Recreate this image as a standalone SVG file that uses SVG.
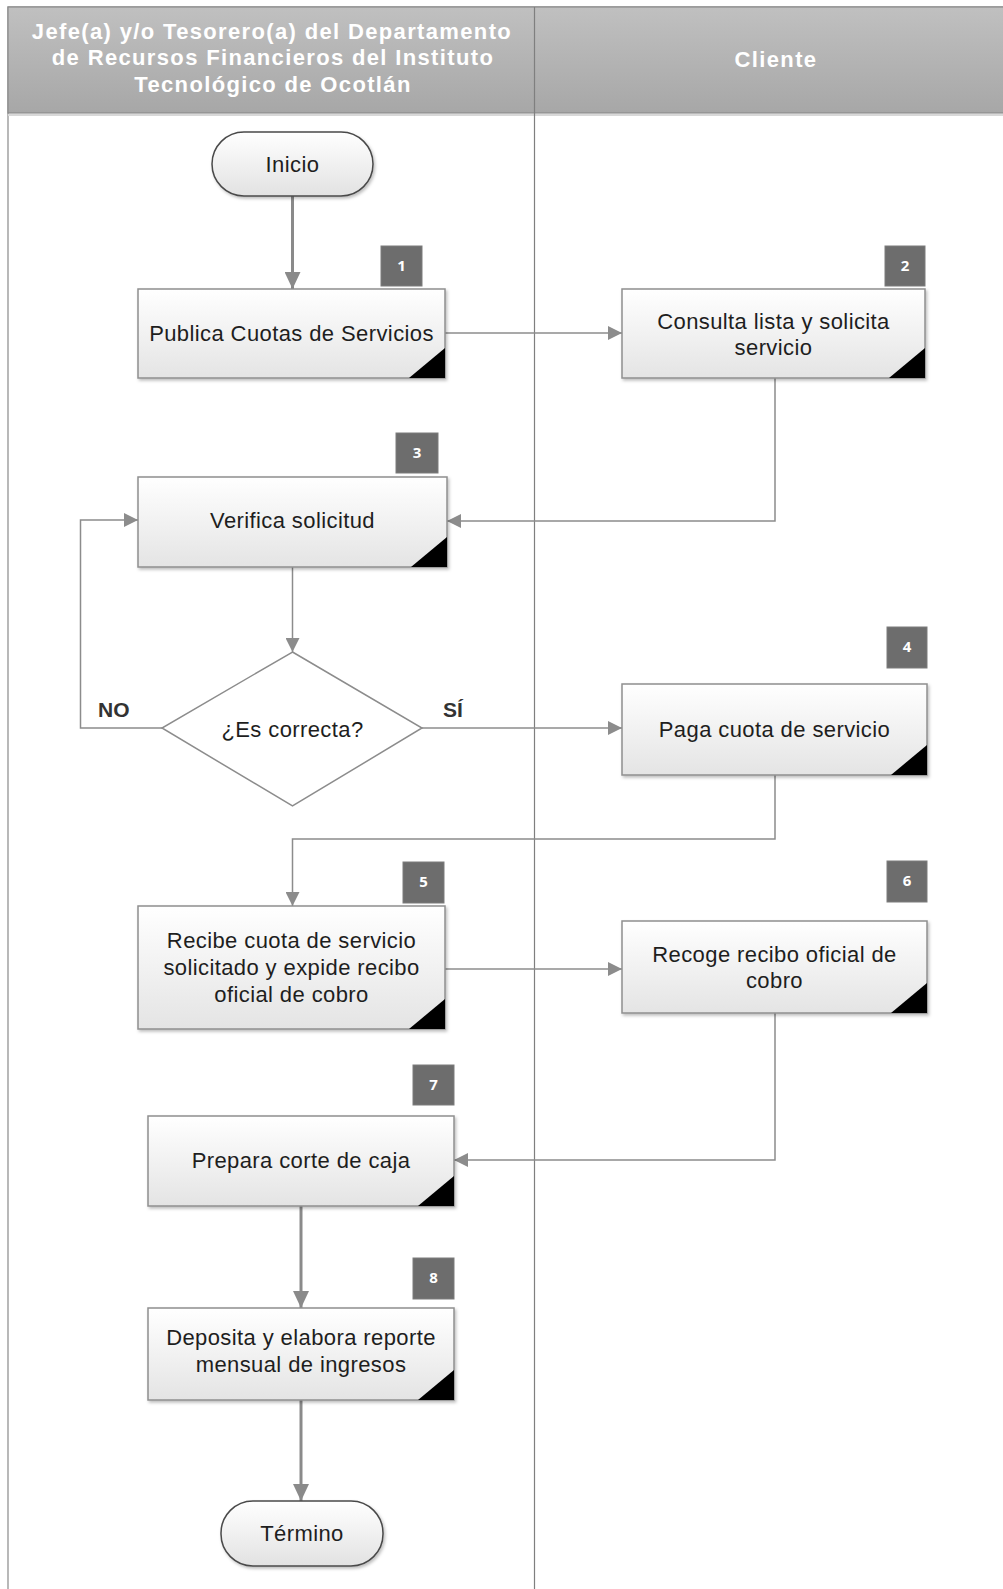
<svg xmlns="http://www.w3.org/2000/svg" width="1003" height="1589" viewBox="0 0 1003 1589">
<defs>
<linearGradient id="hdr" x1="0" y1="0" x2="0" y2="1"><stop offset="0" stop-color="#c0c0c0"/><stop offset="1" stop-color="#a7a7a7"/></linearGradient>
<linearGradient id="box" x1="0" y1="0" x2="0" y2="1"><stop offset="0" stop-color="#ffffff"/><stop offset="1" stop-color="#e4e4e4"/></linearGradient>
<linearGradient id="term" x1="0" y1="0" x2="0" y2="1"><stop offset="0" stop-color="#ffffff"/><stop offset="1" stop-color="#e2e2e2"/></linearGradient>
<filter id="sh" x="-10%" y="-10%" width="125%" height="130%"><feDropShadow dx="1.5" dy="2" stdDeviation="1.5" flood-color="#000" flood-opacity="0.25"/></filter>
<marker id="ah" markerUnits="userSpaceOnUse" markerWidth="15" markerHeight="14" refX="14" refY="7" orient="auto"><path d="M0,0 L14,7 L0,14 z" fill="#8c8c8c"/></marker>
<marker id="ahb" markerUnits="userSpaceOnUse" markerWidth="18" markerHeight="16" refX="17" refY="8" orient="auto"><path d="M0,0 L17,8 L0,16 z" fill="#8a8a8a"/></marker>
<style>
.hd{font-family:"Liberation Sans",Arial,sans-serif;font-weight:bold;font-size:22px;fill:#ffffff;letter-spacing:1.35px;text-anchor:middle}
.t{font-family:"Liberation Sans",Arial,sans-serif;font-size:22px;fill:#1e1e1e;letter-spacing:0.4px;text-anchor:middle}
.lbl{font-family:"Liberation Sans",Arial,sans-serif;font-weight:bold;font-size:21px;fill:#333333;text-anchor:start}
.bn{font-family:"Open Sans","Liberation Sans",Arial,sans-serif;font-weight:bold;font-size:15px;fill:#ffffff;text-anchor:middle}
.bx{fill:url(#box);stroke:#8f8f8f;stroke-width:1.5;filter:url(#sh)}
.tm{fill:url(#term);stroke:#4a4a4a;stroke-width:1.5;filter:url(#sh)}
.bd{fill:#6d6d6d;stroke:#7d7d7d;stroke-width:1}
.fold{fill:#000000}
.c{fill:none;stroke:#8c8c8c;stroke-width:1.5;marker-end:url(#ah)}
.cb{fill:none;stroke:#8a8a8a;stroke-width:3;marker-end:url(#ahb)}
</style>
</defs>
<rect x="0" y="0" width="1003" height="1589" fill="#ffffff"/>
<g id="lanes">
<rect x="8" y="7" width="1000" height="1590" fill="#ffffff" stroke="#8a8a8a" stroke-width="1.2"/>
<rect x="8" y="7" width="1000" height="106" fill="url(#hdr)" stroke="#8a8a8a" stroke-width="1.2"/>
<line x1="8" y1="115" x2="1003" y2="115" stroke="#d8d8d8" stroke-width="2"/>
<line x1="534.5" y1="7" x2="534.5" y2="1589" stroke="#7f7f7f" stroke-width="1.2"/>
<text class="hd" x="272" y="39">Jefe(a) y/o Tesorero(a) del Departamento</text>
<text class="hd" x="273" y="65">de Recursos Financieros del Instituto</text>
<text class="hd" x="273" y="92">Tecnológico de Ocotlán</text>
<text class="hd" x="776" y="67">Cliente</text>
</g>
<g id="connectors">
<line class="cb" x1="292.5" y1="196" x2="292.5" y2="289"/>
<line class="c" x1="445" y1="333" x2="622" y2="333"/>
<polyline class="c" points="775,378 775,521 447,521"/>
<line class="c" x1="292.5" y1="567" x2="292.5" y2="652"/>
<polyline class="c" points="162,728 80.5,728 80.5,520 138,520"/>
<line class="c" x1="422" y1="728" x2="622" y2="728"/>
<polyline class="c" points="775,775 775,839 292.5,839 292.5,906"/>
<line class="c" x1="445" y1="969" x2="622" y2="969"/>
<polyline class="c" points="775,1013 775,1160 454,1160"/>
<line class="cb" x1="301" y1="1206" x2="301" y2="1308"/>
<line class="cb" x1="301" y1="1400" x2="301" y2="1501"/>
<text class="lbl" x="98" y="717">NO</text>
<text class="lbl" x="443" y="717">SÍ</text>
</g>
<g id="inicio">
<rect class="tm" x="212" y="132" width="161" height="64" rx="32" ry="32"/>
<text class="t" x="292.5" y="172">Inicio</text>
</g>
<g id="n1">
<rect class="bx" x="138" y="289" width="307" height="89"/>
<polygon class="fold" points="409,378 445,348 445,378"/>
<rect class="bd" x="381" y="246" width="41" height="40"/>
<text class="bn" x="401.5" y="271">1</text>
<text class="t" x="291.5" y="341">Publica Cuotas de Servicios</text>
</g>
<g id="n2">
<rect class="bx" x="622" y="289" width="303" height="89"/>
<polygon class="fold" points="889,378 925,348 925,378"/>
<rect class="bd" x="885" y="246" width="40" height="40"/>
<text class="bn" x="905" y="271">2</text>
<text class="t" x="773.5" y="329">Consulta lista y solicita</text>
<text class="t" x="773.5" y="355">servicio</text>
</g>
<g id="n3">
<rect class="bx" x="138" y="477" width="309" height="90"/>
<polygon class="fold" points="411,567 447,537 447,567"/>
<rect class="bd" x="396" y="433" width="42" height="40"/>
<text class="bn" x="417" y="458">3</text>
<text class="t" x="292.5" y="528">Verifica solicitud</text>
</g>
<g id="decision">
<polygon points="292.5,652 422,728 292.5,806 162,728" fill="#ffffff" stroke="#8c8c8c" stroke-width="1.5"/>
<text class="t" x="292.5" y="737">¿Es correcta?</text>
</g>
<g id="n4">
<rect class="bx" x="622" y="684" width="305" height="91"/>
<polygon class="fold" points="891,775 927,745 927,775"/>
<rect class="bd" x="887" y="627" width="40" height="41"/>
<text class="bn" x="907" y="652">4</text>
<text class="t" x="774.5" y="737">Paga cuota de servicio</text>
</g>
<g id="n5">
<rect class="bx" x="138" y="906" width="307" height="123"/>
<polygon class="fold" points="409,1029 445,999 445,1029"/>
<rect class="bd" x="403" y="862" width="41" height="41"/>
<text class="bn" x="423.5" y="887">5</text>
<text class="t" x="291.5" y="948">Recibe cuota de servicio</text>
<text class="t" x="291.5" y="975">solicitado y expide recibo</text>
<text class="t" x="291.5" y="1002">oficial de cobro</text>
</g>
<g id="n6">
<rect class="bx" x="622" y="921" width="305" height="92"/>
<polygon class="fold" points="891,1013 927,983 927,1013"/>
<rect class="bd" x="887" y="861" width="40" height="41"/>
<text class="bn" x="907" y="886">6</text>
<text class="t" x="774.5" y="962">Recoge recibo oficial de</text>
<text class="t" x="774.5" y="988">cobro</text>
</g>
<g id="n7">
<rect class="bx" x="148" y="1116" width="306" height="90"/>
<polygon class="fold" points="418,1206 454,1176 454,1206"/>
<rect class="bd" x="413" y="1065" width="41" height="40"/>
<text class="bn" x="433.5" y="1090">7</text>
<text class="t" x="301" y="1168">Prepara corte de caja</text>
</g>
<g id="n8">
<rect class="bx" x="148" y="1308" width="306" height="92"/>
<polygon class="fold" points="418,1400 454,1370 454,1400"/>
<rect class="bd" x="413" y="1258" width="41" height="41"/>
<text class="bn" x="433.5" y="1283">8</text>
<text class="t" x="301" y="1345">Deposita y elabora reporte</text>
<text class="t" x="301" y="1372">mensual de ingresos</text>
</g>
<g id="termino">
<rect class="tm" x="221" y="1501" width="162" height="65" rx="32" ry="32"/>
<text class="t" x="302" y="1541">Término</text>
</g>
</svg>
